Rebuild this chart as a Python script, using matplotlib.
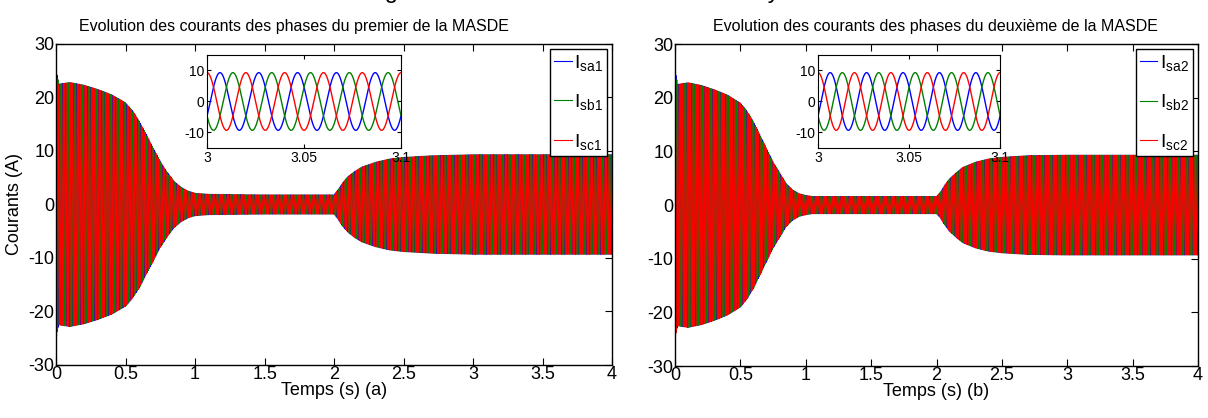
import numpy as np
import matplotlib
matplotlib.use('Agg')
import matplotlib.pyplot as plt

plt.rcParams['font.family'] = ['Liberation Sans', 'DejaVu Sans']
plt.rcParams['mathtext.default'] = 'regular'
plt.rcParams['axes.unicode_minus'] = False

# envelope keypoints (time s, amplitude A)
env_t = [0.0, 0.02, 0.1, 0.2, 0.3, 0.4, 0.5, 0.55, 0.6, 0.65, 0.7, 0.75, 0.8, 0.85, 0.9, 0.95,
         1.0, 1.05, 1.1, 1.5, 2.0, 2.03, 2.06, 2.1, 2.15, 2.2, 2.3, 2.4, 2.5, 2.7, 3.0, 4.0]
env_a1 = [25.0, 22.5, 22.8, 22.3, 21.5, 20.5, 19.0, 17.5, 15.5, 13.0, 10.5, 8.0, 6.0, 4.3, 3.2, 2.5,
          2.1, 2.0, 1.9, 1.8, 1.8, 2.8, 4.0, 5.2, 6.2, 7.0, 7.9, 8.5, 8.8, 9.1, 9.3, 9.3]
env_a2 = [25.0, 22.5, 22.8, 22.3, 21.5, 20.5, 19.0, 17.5, 15.5, 13.0, 10.5, 8.0, 6.0, 4.0, 2.8, 2.1,
          1.8, 1.6, 1.6, 1.6, 1.6, 2.4, 3.6, 4.9, 6.0, 7.0, 8.0, 8.6, 8.9, 9.2, 9.3, 9.3]
freq = 50.0  # Hz
xticks = [0, 0.5, 1, 1.5, 2, 2.5, 3, 3.5, 4]
xticklabels = ['0', '0.5', '1', '1.5', '2', '2.5', '3', '3.5', '4']
yticks = [-30, -20, -10, 0, 10, 20, 30]
titles = ['Evolution des courants des phases du premier de la MASDE',
          'Evolution des courants des phases du deuxième de la MASDE']
xlabels = ['Temps (s) (a)', 'Temps (s) (b)']
legends = [[r'I$_{sa1}$', r'I$_{sb1}$', r'I$_{sc1}$'],
           [r'I$_{sa2}$', r'I$_{sb2}$', r'I$_{sc2}$']]
colors = ['#0000ff', '#008000', '#ff0000']
phases = [-2 * np.pi / 3, 2 * np.pi / 3, 0.0]

t = np.arange(0, 4.0, 1e-4)
w = 2 * np.pi * freq

fig = plt.figure(figsize=(12.08, 4.18), dpi=100)
main_pos = [[0.0464, 0.1268, 0.4603, 0.768], [0.5588, 0.1244, 0.4329, 0.770]]
inset_pos = [[0.1714, 0.646, 0.1606, 0.2225], [0.6772, 0.646, 0.1507, 0.2225]]
title_x = [0.243, 0.774]

for k, env in enumerate([env_a1, env_a2]):
    amp = np.interp(t, env_t, env)
    ax = fig.add_axes(main_pos[k])
    for c, ph, lab in zip(colors, phases, legends[k]):
        ax.plot(t, amp * np.cos(w * t + ph), color=c, lw=0.8, label=lab)
    ax.set_xlim(0, 4)
    ax.set_ylim(-30, 30)
    ax.set_xticks(xticks)
    ax.set_xticklabels(xticklabels)
    ax.set_yticks(yticks)
    ax.tick_params(direction='in', top=True, right=True, labelsize=13, length=5, pad=1)
    for s in ax.spines.values():
        s.set_linewidth(1.0)
    ax.set_xlabel(xlabels[k], fontsize=13, labelpad=-1)
    if k == 0:
        ax.set_ylabel('Courants (A)', fontsize=13, labelpad=4)
    fig.text(title_x[k], 0.925, titles[k], ha='center', fontsize=11.5)
    leg = ax.legend(loc='upper right', fontsize=14, handlelength=0.9, handletextpad=0.15,
                    borderaxespad=0.25, labelspacing=1.0, fancybox=False, framealpha=1,
                    edgecolor='black', borderpad=0.2)
    leg.get_frame().set_linewidth(1.0)

    axi = fig.add_axes(inset_pos[k])
    mask = (t >= 3.0) & (t <= 3.1)
    for c, ph in zip(colors, phases):
        axi.plot(t[mask], amp[mask] * np.cos(w * t[mask] + ph), color=c, lw=1.0)
    axi.set_xlim(3, 3.1)
    axi.set_ylim(-15, 15)
    axi.set_xticks([3, 3.05, 3.1])
    axi.set_xticklabels(['3', '3.05', '3.1'])
    axi.set_yticks([-10, 0, 10])
    axi.tick_params(direction='in', top=True, right=True, labelsize=10, length=3, pad=2)

# caption of the page, mostly cut off at the top edge as in the reference
fig.text(0.5, 1 + 2 / 418, 'Figure 5 : Résultats de simulation du système', ha='center',
         va='baseline', fontsize=17)

fig.savefig('out.png', dpi=100)
